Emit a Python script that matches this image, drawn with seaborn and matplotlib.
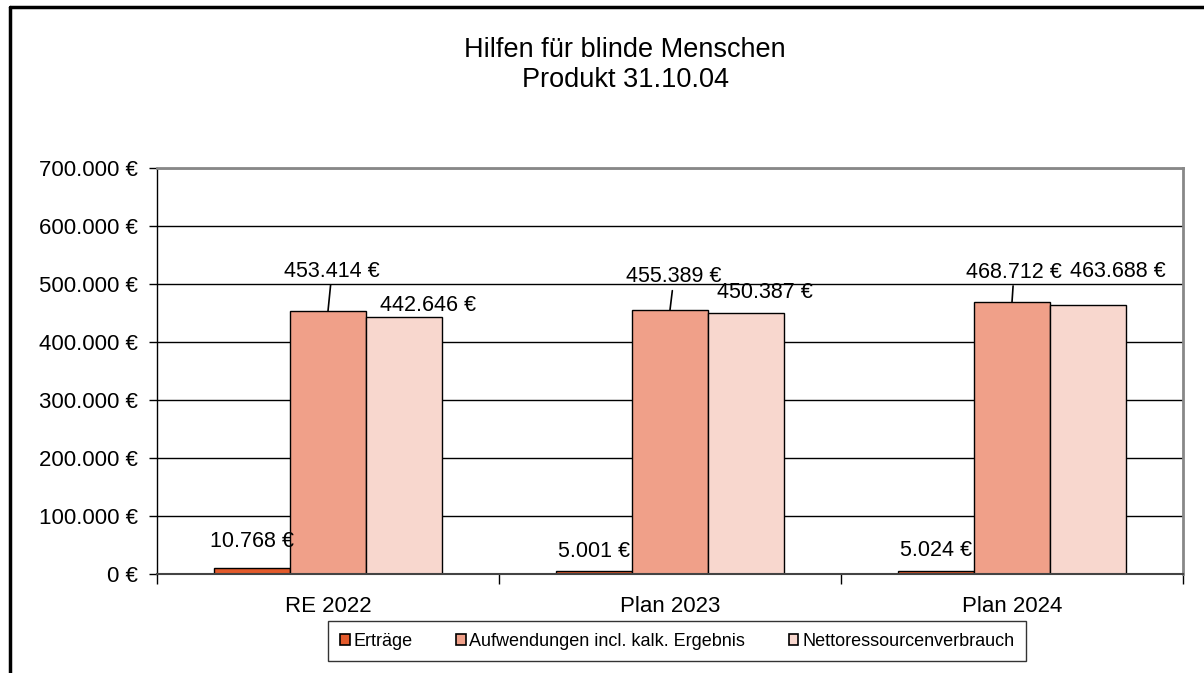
import matplotlib
matplotlib.use("Agg")
import matplotlib.pyplot as plt
from matplotlib.lines import Line2D
from matplotlib.patches import Patch
from matplotlib.ticker import FuncFormatter, MultipleLocator, FixedLocator
import seaborn as sns
import pandas as pd

# Daten
jahre = ["RE 2022", "Plan 2023", "Plan 2024"]
arten = ["Erträge", "Aufwendungen incl. kalk. Ergebnis", "Nettoressourcenverbrauch"]
ertraege = [10768, 5001, 5024]
aufwendungen = [453414, 455389, 468712]
netto = [442646, 450387, 463688]
farben = ["#E35A2B", "#F0A089", "#F8D7CE"]

titel = "Hilfen für blinde Menschen\nProdukt 31.10.04"

# Lage der Wertebeschriftungen (Pixel relativ zur Balkenoberkante)
label_offsets = [
    [(0, 26), (0, 20), (0, 21)],
    [(4, 40), (4, 33), (2, 30)],
    [(24, 12), (19, 20), (30, 34)],
]

df = pd.DataFrame({
    "Jahr": jahre * 3,
    "Art": [arten[0]] * 3 + [arten[1]] * 3 + [arten[2]] * 3,
    "Wert": ertraege + aufwendungen + netto,
})

sns.set_style("white")
plt.rcParams["font.family"] = ["Liberation Sans", "DejaVu Sans"]
plt.rcParams["text.color"] = "black"
plt.rcParams["xtick.color"] = "black"
plt.rcParams["ytick.color"] = "black"


def euro(v, pos=None):
    return f"{v:,.0f} €".replace(",", ".")


fig = plt.figure(figsize=(12.04, 6.73), dpi=100)
ax = fig.add_axes([157 / 1204, 1 - 574 / 673, 1026 / 1204, 406 / 673])

sns.barplot(data=df, x="Jahr", y="Wert", hue="Art", hue_order=arten, order=jahre,
            palette=farben, width=0.667, saturation=1, edgecolor="black",
            linewidth=1, legend=False, ax=ax)

ax.set_ylim(0, 700000)
ax.set_xlim(-0.5, 2.5)
ax.yaxis.set_major_locator(MultipleLocator(100000))
ax.yaxis.set_major_formatter(FuncFormatter(euro))
ax.set_axisbelow(True)
ax.grid(axis="y", color="black", linewidth=1)
ax.set_xlabel("")
ax.set_ylabel("")

ax.tick_params(axis="y", direction="out", length=6, width=1, color="black",
               labelsize=16, pad=8, left=True, labelcolor="black")
ax.tick_params(axis="x", which="major", length=0, labelsize=16, pad=16,
               labelcolor="black")
ax.xaxis.set_minor_locator(FixedLocator([-0.5, 0.5, 1.5, 2.5]))
ax.tick_params(axis="x", which="minor", direction="out", length=7, width=1,
               color="black", bottom=True)

for side in ["top", "right"]:
    ax.spines[side].set_visible(True)
    ax.spines[side].set_color("#888888")
    ax.spines[side].set_linewidth(2)
ax.spines["left"].set_color("black")
ax.spines["left"].set_linewidth(1)
ax.spines["bottom"].set_color("#444444")
ax.spines["bottom"].set_linewidth(1.5)

# Wertebeschriftungen
for i, cont in enumerate(ax.containers):
    for j, bar in enumerate(cont):
        x = bar.get_x() + bar.get_width() / 2
        y = bar.get_height()
        dx, dy = label_offsets[i][j]
        props = None
        if i == 1:
            props = dict(arrowstyle="-", color="black", lw=1.2, shrinkA=0, shrinkB=0)
        ax.annotate(euro(y), xy=(x, y), xytext=(dx, dy), textcoords="offset pixels",
                    ha="center", va="center", fontsize=15.5, color="black",
                    arrowprops=props, annotation_clip=False)

fig.text(625 / 1204, 1 - 65 / 673, titel, ha="center", va="center",
         fontsize=19.5, linespacing=1.2, color="black")

handles = [Patch(facecolor=c, edgecolor="black", linewidth=1.2) for c in farben]
leg = fig.legend(handles, arten, loc="center", bbox_to_anchor=(677 / 1204, 1 - 641 / 673),
                 ncol=3, frameon=True, fancybox=False, fontsize=13,
                 handlelength=0.55, handleheight=0.55, handletextpad=0.2,
                 columnspacing=2.4, borderpad=0.65)
leg.get_frame().set_edgecolor("black")
leg.get_frame().set_linewidth(1)
for t in leg.get_texts():
    t.set_color("black")

# Rahmen des Diagrammbereichs
fig.add_artist(Line2D([10 / 1204, 1], [1 - 7 / 673, 1 - 7 / 673],
                      transform=fig.transFigure, color="black", linewidth=2.5))
fig.add_artist(Line2D([10 / 1204, 10 / 1204], [0, 1 - 7 / 673],
                      transform=fig.transFigure, color="black", linewidth=2.5))

fig.savefig("out.png", dpi=100)
